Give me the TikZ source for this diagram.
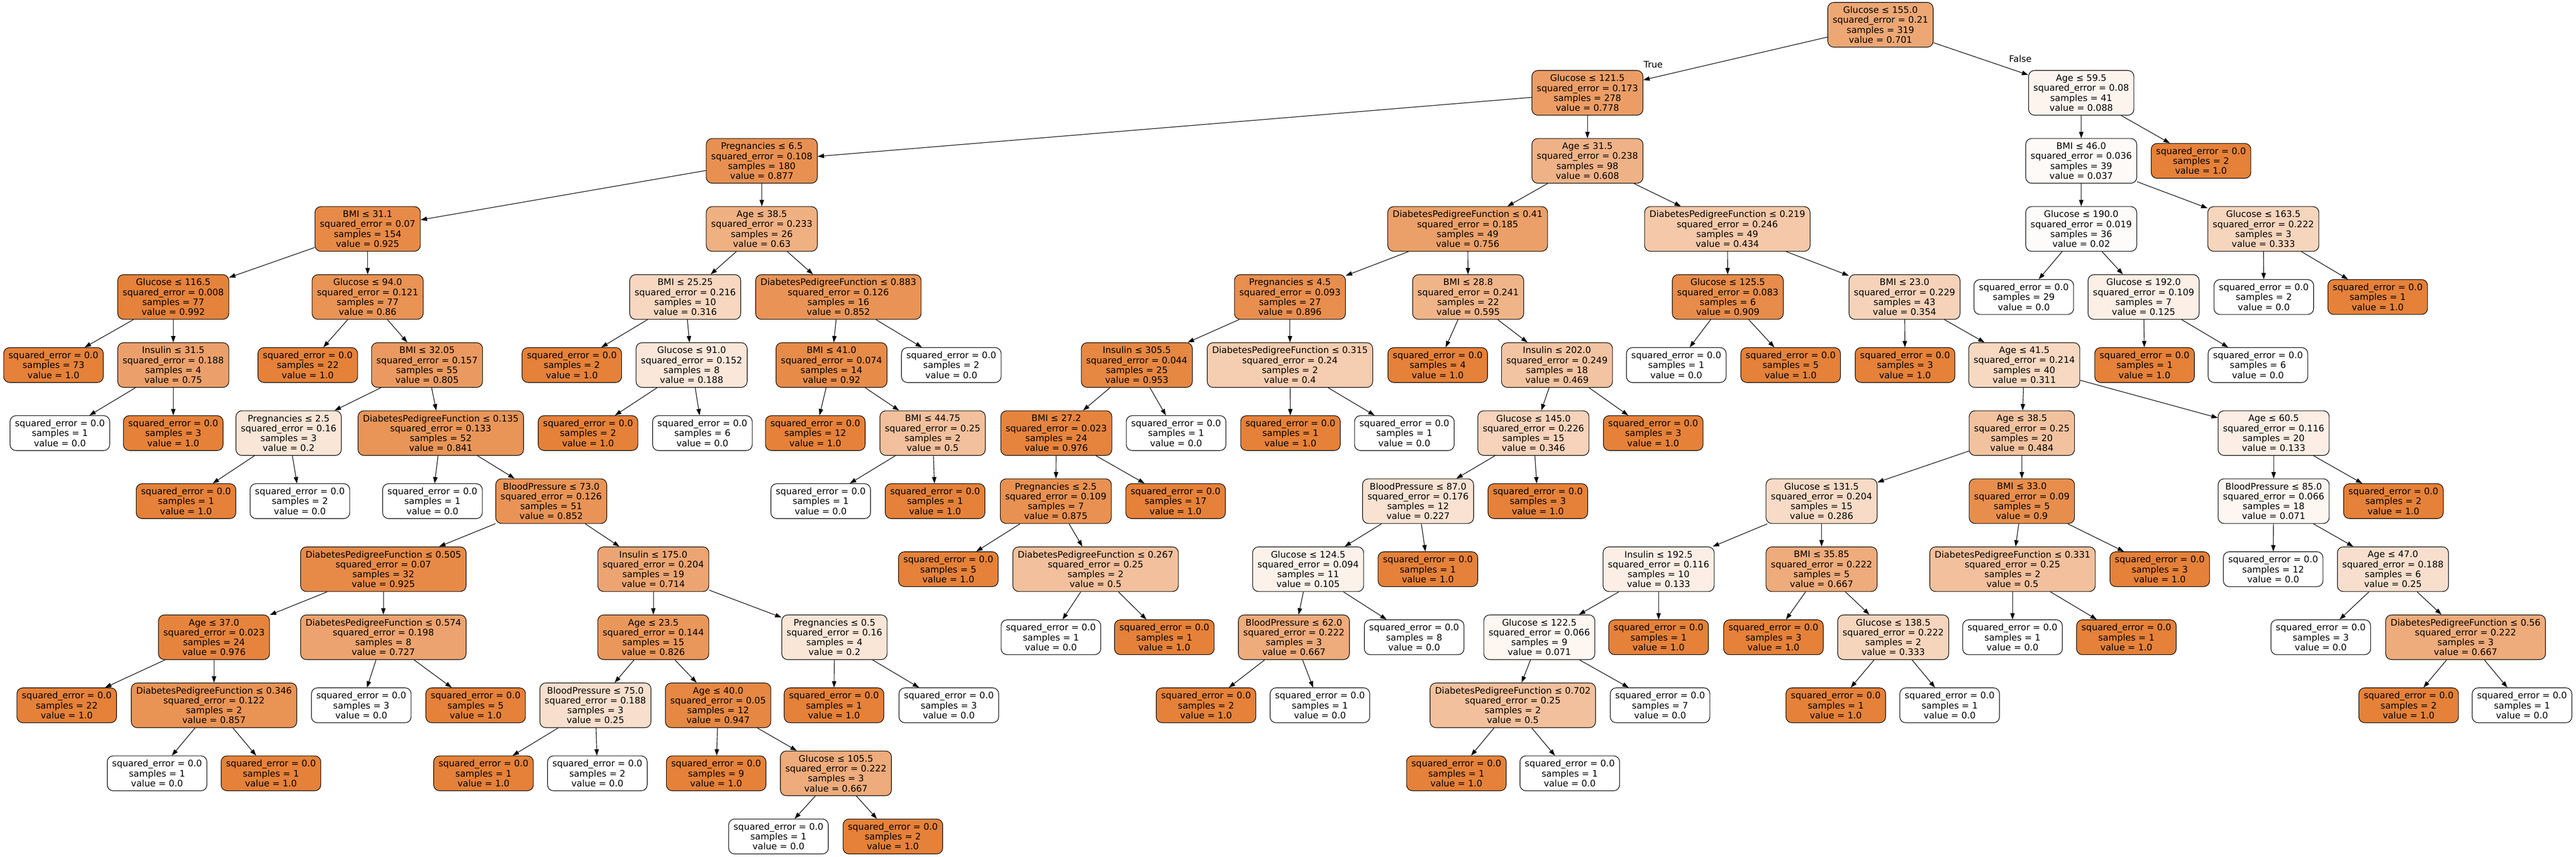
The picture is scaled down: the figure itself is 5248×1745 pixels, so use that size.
\documentclass[tikz,border=0pt]{standalone}
\usepackage{fontspec}
\setmainfont{DejaVu Sans}
\usetikzlibrary{arrows.meta}
\definecolor{dtc}{RGB}{229,129,57}
\newcommand\tsq{squared\_error = }
\newcommand\tsmp{samples = }
\newcommand\tvl{value = }
\tikzset{
  tn/.style={draw=black, line width=1.2pt, rounded corners=12pt, align=center,
    inner xsep=10pt, inner ysep=0pt, minimum height=91pt,
    font=\fontsize{18.25}{20.2}\selectfont},
  leafbox/.style={tn, minimum height=71pt},
  conn/.style={line width=1.2pt, -{Triangle[length=13pt,width=9pt]}},
  lbl/.style={font=\fontsize{18.25}{20.2}\selectfont, inner sep=0pt}
}
\newcommand\dtin[8]{\node[tn,fill=dtc!#4] (#1) at (#2,#3) {#5\\\tsq#6\\\tsmp#7\\\tvl#8};}
\newcommand\lfo[4]{\node[leafbox,fill=dtc] (#1) at (#2,#3) {\tsq0.0\\\tsmp#4\\\tvl1.0};}
\newcommand\lfw[4]{\node[leafbox,fill=white] (#1) at (#2,#3) {\tsq0.0\\\tsmp#4\\\tvl0.0};}
\begin{document}
\begin{tikzpicture}[x=1pt,y=-1pt]
\fill[white] (0,0) rectangle (5248,1745);
\useasboundingbox (0,0) rectangle (5248,1745);
% rank 0
\dtin{n0}{3831}{50.5}{70.1}{Glucose ≤ 155.0}{0.21}{319}{0.701}
% rank 1
\dtin{n1}{3234}{189.1}{77.8}{Glucose ≤ 121.5}{0.173}{278}{0.778}
\dtin{n2}{4240}{189.1}{8.8}{Age ≤ 59.5}{0.08}{41}{0.088}
% rank 2
\dtin{n3}{1552}{327.7}{87.7}{Pregnancies ≤ 6.5}{0.108}{180}{0.877}
\dtin{n4}{3234}{327.7}{60.8}{Age ≤ 31.5}{0.238}{98}{0.608}
\dtin{n5}{4240}{327.7}{3.7}{BMI ≤ 46.0}{0.036}{39}{0.037}
\lfo{n6}{4484}{327.7}{2}
% rank 3
\dtin{n7}{749}{466.3}{92.5}{BMI ≤ 31.1}{0.07}{154}{0.925}
\dtin{n8}{1552}{466.3}{63}{Age ≤ 38.5}{0.233}{26}{0.63}
\dtin{n9}{2990}{466.3}{75.6}{DiabetesPedigreeFunction ≤ 0.41}{0.185}{49}{0.756}
\dtin{n10}{3519}{466.3}{43.4}{DiabetesPedigreeFunction ≤ 0.219}{0.246}{49}{0.434}
\dtin{n11}{4240}{466.3}{2}{Glucose ≤ 190.0}{0.019}{36}{0.02}
\dtin{n12}{4611}{466.3}{33.3}{Glucose ≤ 163.5}{0.222}{3}{0.333}
% rank 4
\dtin{n13}{353}{604.9}{99.2}{Glucose ≤ 116.5}{0.008}{77}{0.992}
\dtin{n14}{749}{604.9}{86}{Glucose ≤ 94.0}{0.121}{77}{0.86}
\dtin{n15}{1396}{604.9}{31.6}{BMI ≤ 25.25}{0.216}{10}{0.316}
\dtin{n16}{1708}{604.9}{85.2}{DiabetesPedigreeFunction ≤ 0.883}{0.126}{16}{0.852}
\dtin{n17}{2628}{604.9}{89.6}{Pregnancies ≤ 4.5}{0.093}{27}{0.896}
\dtin{n18}{2991}{604.9}{59.5}{BMI ≤ 28.8}{0.241}{22}{0.595}
\dtin{n19}{3520}{604.9}{90.9}{Glucose ≤ 125.5}{0.083}{6}{0.909}
\dtin{n20}{3880}{604.9}{35.4}{BMI ≤ 23.0}{0.229}{43}{0.354}
\lfw{n21}{4123}{604.9}{29}
\dtin{n22}{4367}{604.9}{12.5}{Glucose ≤ 192.0}{0.109}{7}{0.125}
\lfw{n23}{4612}{604.9}{2}
\lfo{n24}{4844}{604.9}{1}
% rank 5
\lfo{n25}{109}{743.5}{73}
\dtin{n26}{353}{743.5}{75}{Insulin ≤ 31.5}{0.188}{4}{0.75}
\lfo{n27}{627}{743.5}{22}
\dtin{n28}{870}{743.5}{80.5}{BMI ≤ 32.05}{0.157}{55}{0.805}
\lfo{n29}{1165}{743.5}{2}
\dtin{n30}{1409}{743.5}{18.8}{Glucose ≤ 91.0}{0.152}{8}{0.188}
\dtin{n31}{1694}{743.5}{92}{BMI ≤ 41.0}{0.074}{14}{0.92}
\lfw{n32}{1938}{743.5}{2}
\dtin{n33}{2316}{743.5}{95.3}{Insulin ≤ 305.5}{0.044}{25}{0.953}
\dtin{n34}{2628}{743.5}{40}{DiabetesPedigreeFunction ≤ 0.315}{0.24}{2}{0.4}
\lfo{n35}{2929}{743.5}{4}
\dtin{n36}{3172}{743.5}{46.9}{Insulin ≤ 202.0}{0.249}{18}{0.469}
\lfw{n37}{3415}{743.5}{1}
\lfo{n38}{3648}{743.5}{5}
\lfo{n39}{3881}{743.5}{3}
\dtin{n40}{4124}{743.5}{31.1}{Age ≤ 41.5}{0.214}{40}{0.311}
\lfo{n41}{4369}{743.5}{1}
\lfw{n42}{4600}{743.5}{6}
% rank 6
\lfw{n43}{122}{882.1}{1}
\lfo{n44}{353}{882.1}{3}
\dtin{n45}{588}{882.1}{20}{Pregnancies ≤ 2.5}{0.16}{3}{0.2}
\dtin{n46}{898}{882.1}{84.1}{DiabetesPedigreeFunction ≤ 0.135}{0.133}{52}{0.841}
\lfo{n47}{1198}{882.1}{2}
\lfw{n48}{1431}{882.1}{6}
\lfo{n49}{1661}{882.1}{12}
\dtin{n50}{1900}{882.1}{50}{BMI ≤ 44.75}{0.25}{2}{0.5}
\dtin{n51}{2152}{882.1}{97.6}{BMI ≤ 27.2}{0.023}{24}{0.976}
\lfw{n52}{2396}{882.1}{1}
\lfo{n53}{2629}{882.1}{1}
\lfw{n54}{2861}{882.1}{1}
\dtin{n55}{3124}{882.1}{34.6}{Glucose ≤ 145.0}{0.226}{15}{0.346}
\lfo{n56}{3368}{882.1}{3}
\dtin{n57}{4119}{882.1}{48.4}{Age ≤ 38.5}{0.25}{20}{0.484}
\dtin{n58}{4632}{882.1}{13.3}{Age ≤ 60.5}{0.116}{20}{0.133}
% rank 7
\lfo{n59}{379}{1020.7}{1}
\lfw{n60}{611}{1020.7}{2}
\lfw{n61}{881}{1020.7}{1}
\dtin{n62}{1123}{1020.7}{85.2}{BloodPressure ≤ 73.0}{0.126}{51}{0.852}
\lfw{n63}{1672}{1020.7}{1}
\lfo{n64}{1905}{1020.7}{1}
\dtin{n65}{2151}{1020.7}{87.5}{Pregnancies ≤ 2.5}{0.109}{7}{0.875}
\lfo{n66}{2395}{1020.7}{17}
\dtin{n67}{2889}{1020.7}{22.7}{BloodPressure ≤ 87.0}{0.176}{12}{0.227}
\lfo{n68}{3133}{1020.7}{3}
\dtin{n69}{3711}{1020.7}{28.6}{Glucose ≤ 131.5}{0.204}{15}{0.286}
\dtin{n70}{4119}{1020.7}{90}{BMI ≤ 33.0}{0.09}{5}{0.9}
\dtin{n71}{4632}{1020.7}{7.1}{BloodPressure ≤ 85.0}{0.066}{18}{0.071}
\lfo{n72}{4876}{1020.7}{2}
% rank 8
\dtin{n73}{781}{1159.3}{92.5}{DiabetesPedigreeFunction ≤ 0.505}{0.07}{32}{0.925}
\dtin{n74}{1331}{1159.3}{71.4}{Insulin ≤ 175.0}{0.204}{19}{0.714}
\lfo{n75}{1932}{1159.3}{5}
\dtin{n76}{2232}{1159.3}{50}{DiabetesPedigreeFunction ≤ 0.267}{0.25}{2}{0.5}
\dtin{n77}{2665}{1159.3}{10.5}{Glucose ≤ 124.5}{0.094}{11}{0.105}
\lfo{n78}{2909}{1159.3}{1}
\dtin{n79}{3379}{1159.3}{13.3}{Insulin ≤ 192.5}{0.116}{10}{0.133}
\dtin{n80}{3711}{1159.3}{66.7}{BMI ≤ 35.85}{0.222}{5}{0.667}
\dtin{n81}{4100}{1159.3}{50}{DiabetesPedigreeFunction ≤ 0.331}{0.25}{2}{0.5}
\lfo{n82}{4400}{1159.3}{3}
\lfw{n83}{4631}{1159.3}{12}
\dtin{n84}{4875}{1159.3}{25}{Age ≤ 47.0}{0.188}{6}{0.25}
% rank 9
\dtin{n85}{436}{1297.9}{97.6}{Age ≤ 37.0}{0.023}{24}{0.976}
\dtin{n86}{781}{1297.9}{72.7}{DiabetesPedigreeFunction ≤ 0.574}{0.198}{8}{0.727}
\dtin{n87}{1331}{1297.9}{82.6}{Age ≤ 23.5}{0.144}{15}{0.826}
\dtin{n88}{1700}{1297.9}{20}{Pregnancies ≤ 0.5}{0.16}{4}{0.2}
\lfw{n89}{2141}{1297.9}{1}
\lfo{n90}{2372}{1297.9}{1}
\dtin{n91}{2636}{1297.9}{66.7}{BloodPressure ≤ 62.0}{0.222}{3}{0.667}
\lfw{n92}{2881}{1297.9}{8}
\dtin{n93}{3136}{1297.9}{7.1}{Glucose ≤ 122.5}{0.066}{9}{0.071}
\lfo{n94}{3379}{1297.9}{1}
\lfo{n95}{3613}{1297.9}{3}
\dtin{n96}{3857}{1297.9}{33.3}{Glucose ≤ 138.5}{0.222}{2}{0.333}
\lfw{n97}{4100}{1297.9}{1}
\lfo{n98}{4332}{1297.9}{1}
\lfw{n99}{4728}{1297.9}{3}
\dtin{n100}{5023}{1297.9}{66.7}{DiabetesPedigreeFunction ≤ 0.56}{0.222}{3}{0.667}
% rank 10
\lfo{n101}{136}{1436.5}{22}
\dtin{n102}{436}{1436.5}{85.7}{DiabetesPedigreeFunction ≤ 0.346}{0.122}{2}{0.857}
\lfw{n103}{736}{1436.5}{3}
\lfo{n104}{969}{1436.5}{5}
\dtin{n105}{1213}{1436.5}{25}{BloodPressure ≤ 75.0}{0.188}{3}{0.25}
\dtin{n106}{1463}{1436.5}{94.7}{Age ≤ 40.0}{0.05}{12}{0.947}
\lfo{n107}{1699}{1436.5}{1}
\lfw{n108}{1933}{1436.5}{3}
\lfo{n109}{2457}{1436.5}{2}
\lfw{n110}{2689}{1436.5}{1}
\dtin{n111}{3082}{1436.5}{50}{DiabetesPedigreeFunction ≤ 0.702}{0.25}{2}{0.5}
\lfw{n112}{3382}{1436.5}{7}
\lfo{n113}{3740}{1436.5}{1}
\lfw{n114}{3972}{1436.5}{1}
\lfo{n115}{4907}{1436.5}{2}
\lfw{n116}{5138}{1436.5}{1}
% rank 11
\lfw{n117}{320}{1575.1}{1}
\lfo{n118}{552}{1575.1}{1}
\lfo{n119}{985}{1575.1}{1}
\lfw{n120}{1217}{1575.1}{2}
\lfo{n121}{1459}{1575.1}{9}
\dtin{n122}{1703}{1575.1}{66.7}{Glucose ≤ 105.5}{0.222}{3}{0.667}
\lfo{n123}{2967}{1575.1}{1}
\lfw{n124}{3198}{1575.1}{1}
% rank 12
\lfw{n125}{1586}{1703.7}{1}
\lfo{n126}{1819}{1703.7}{2}
% connectors
\foreach \p/\c in {n0/n1, n0/n2,
  n1/n3, n1/n4, n2/n5, n2/n6,
  n3/n7, n3/n8, n4/n9, n4/n10, n5/n11, n5/n12,
  n7/n13, n7/n14, n8/n15, n8/n16, n9/n17, n9/n18, n10/n19, n10/n20, n11/n21, n11/n22, n12/n23, n12/n24,
  n13/n25, n13/n26, n14/n27, n14/n28, n15/n29, n15/n30, n16/n31, n16/n32, n17/n33, n17/n34, n18/n35, n18/n36, n19/n37, n19/n38, n20/n39, n20/n40, n22/n41, n22/n42,
  n26/n43, n26/n44, n28/n45, n28/n46, n30/n47, n30/n48, n31/n49, n31/n50, n33/n51, n33/n52, n34/n53, n34/n54, n36/n55, n36/n56, n40/n57, n40/n58,
  n45/n59, n45/n60, n46/n61, n46/n62, n50/n63, n50/n64, n51/n65, n51/n66, n55/n67, n55/n68, n57/n69, n57/n70, n58/n71, n58/n72,
  n62/n73, n62/n74, n65/n75, n65/n76, n67/n77, n67/n78, n69/n79, n69/n80, n70/n81, n70/n82, n71/n83, n71/n84,
  n73/n85, n73/n86, n74/n87, n74/n88, n76/n89, n76/n90, n77/n91, n77/n92, n79/n93, n79/n94, n80/n95, n80/n96, n81/n97, n81/n98, n84/n99, n84/n100,
  n85/n101, n85/n102, n86/n103, n86/n104, n87/n105, n87/n106, n88/n107, n88/n108, n91/n109, n91/n110, n93/n111, n93/n112, n96/n113, n96/n114, n100/n115, n100/n116,
  n102/n117, n102/n118, n105/n119, n105/n120, n106/n121, n106/n122, n111/n123, n111/n124,
  n122/n125, n122/n126}
  \draw[conn] (\p) -- (\c);
% edge labels
\node[lbl] (ltrue) at (3368,131) {True};
\node[lbl] (lfalse) at (4116,120) {False};
\end{tikzpicture}
\end{document}
